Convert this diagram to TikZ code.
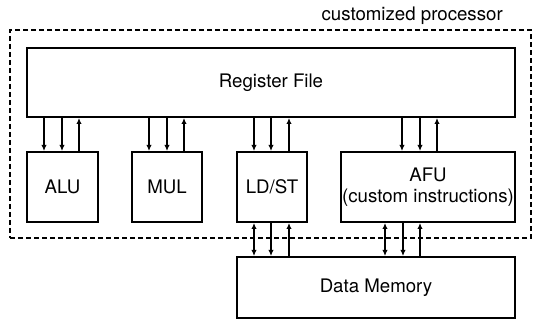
\documentclass[tikz,border=0pt]{standalone}
\usepackage{fontspec}
\setmainfont{TeX Gyre Heros}
\usetikzlibrary{arrows.meta}
\newlength\pxu
\setlength\pxu{0.75pt}
\begin{document}
\begin{tikzpicture}[x=\pxu, y=-\pxu,
  font=\fontsize{14pt}{15.5pt}\selectfont,
  unit/.style={draw, line width=1.5pt, inner sep=0pt, align=center},
  link/.style={line width=1pt, -{Latex[length=4.5pt,width=4pt]}},
  duplex/.style={line width=1pt, {Latex[length=4.5pt,width=4pt]}-{Latex[length=4.5pt,width=4pt]}},
  boundary/.style={draw, line width=1pt, dash pattern=on 3.75pt off 2.25pt, inner sep=0pt}]
\useasboundingbox (0,0) rectangle (533,327);

% processor boundary and its caption
\node[boundary, minimum width=521\pxu, minimum height=208\pxu] (proc) at (270.5,134) {};
\node[anchor=base east, inner sep=0pt] (proctitle) at (503,21) {customized processor};

% functional blocks
\node[unit, minimum width=488\pxu, minimum height=69\pxu] (rf) at (271,82.5) {\raisebox{2pt}{Register File}};
\node[unit, minimum width=71\pxu, minimum height=70\pxu] (alu) at (62.5,187) {ALU};
\node[unit, minimum width=70\pxu, minimum height=70\pxu] (mul) at (167,187) {MUL};
\node[unit, minimum width=70\pxu, minimum height=70\pxu] (ldst) at (272,187) {LD/ST};
\node[unit, minimum width=174\pxu, minimum height=70\pxu] (afu) at (428,187) {AFU\\(custom instructions)};
\node[unit, minimum width=278\pxu, minimum height=61\pxu] (dm) at (376,287.5) {Data Memory};

% register file <-> units: two operands down, one result up
\foreach \u/\a/\b/\c in {alu/44/62/79, mul/149/167/184, ldst/254/271/289, afu/402/420/437} {
  \draw[link] (rf.south -| \a,0) -- (\u.north -| \a,0);
  \draw[link] (rf.south -| \b,0) -- (\u.north -| \b,0);
  \draw[link] (\u.north -| \c,0) -- (rf.south -| \c,0);
}

% units <-> data memory
\foreach \u/\a/\b/\c in {ldst/254/271/289, afu/385/403/420} {
  \draw[duplex] (\u.south -| \a,0) -- (dm.north -| \a,0);
  \draw[link] (\u.south -| \b,0) -- (dm.north -| \b,0);
  \draw[link] (dm.north -| \c,0) -- (\u.south -| \c,0);
}
\end{tikzpicture}
\end{document}
